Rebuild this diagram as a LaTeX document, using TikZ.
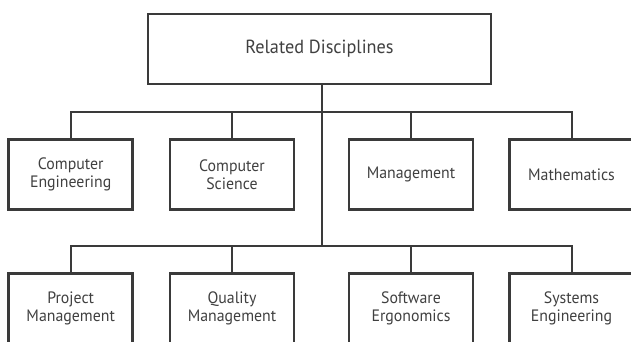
\documentclass[tikz,border=0pt]{standalone}
\usepackage{fontspec}
\setmainfont{PT Sans}[FakeStretch = 0.96]
\usepackage{tikz}
\definecolor{boxline}{HTML}{3A3A3A}
\definecolor{boxtext}{HTML}{404040}
\tikzstyle{rootBox}=[shape = rectangle, draw = boxline, line width = 2.8pt, minimum width = 343pt, minimum height = 70pt, inner sep = 0pt, text = boxtext, font = \fontsize{19}{22}\selectfont]
\tikzstyle{leafBox}=[shape = rectangle, draw = boxline, line width = 2.8pt, minimum width = 124pt, minimum height = 70pt, inner sep = 0pt, align = center, text = boxtext, font = \fontsize{16.5}{18.5}\selectfont]

\begin{document}
\begin{tikzpicture}[x = 1pt, y = 1pt]
\tikzstyle{busLine}=[draw = boxline, line width = 2pt]
\clip (0,0) rectangle (631,341);
\useasboundingbox (0,0) rectangle (631,341);
% Start top
\node[style = rootBox] (d0) at (319.5,292) {Related Disciplines};
\coordinate (b1) at (321.5,229);
\coordinate (b2) at (321.5,95.3);
% Start first row
\node[style = leafBox] (c1) at (70.7,166.5) {Computer\\Engineering};
\node[style = leafBox] (c2) at (232,166.5) {Computer\\Science};
\node[style = leafBox] (c3) at (411,166.5) {Management};
\node[style = leafBox] (c4) at (571.5,166.5) {Mathematics};
% Start second row
\node[style = leafBox] (p1) at (70.7,32.5) {Project\\Management};
\node[style = leafBox] (p2) at (232,32.5) {Quality\\Management};
\node[style = leafBox] (p3) at (411,32.5) {Software\\Ergonomics};
\node[style = leafBox] (p4) at (571.5,32.5) {Systems\\Engineering};
% Connectors
\draw[style = busLine] (d0.south -| b1) -- (b2);
\draw[style = busLine] (c1.north) |- (b1) -| (c4.north);
\draw[style = busLine] (c2.north) -- (c2.north |- b1);
\draw[style = busLine] (c3.north) -- (c3.north |- b1);
\draw[style = busLine] (p1.north) |- (b2) -| (p4.north);
\draw[style = busLine] (p2.north) -- (p2.north |- b2);
\draw[style = busLine] (p3.north) -- (p3.north |- b2);
\end{tikzpicture}
\end{document}
